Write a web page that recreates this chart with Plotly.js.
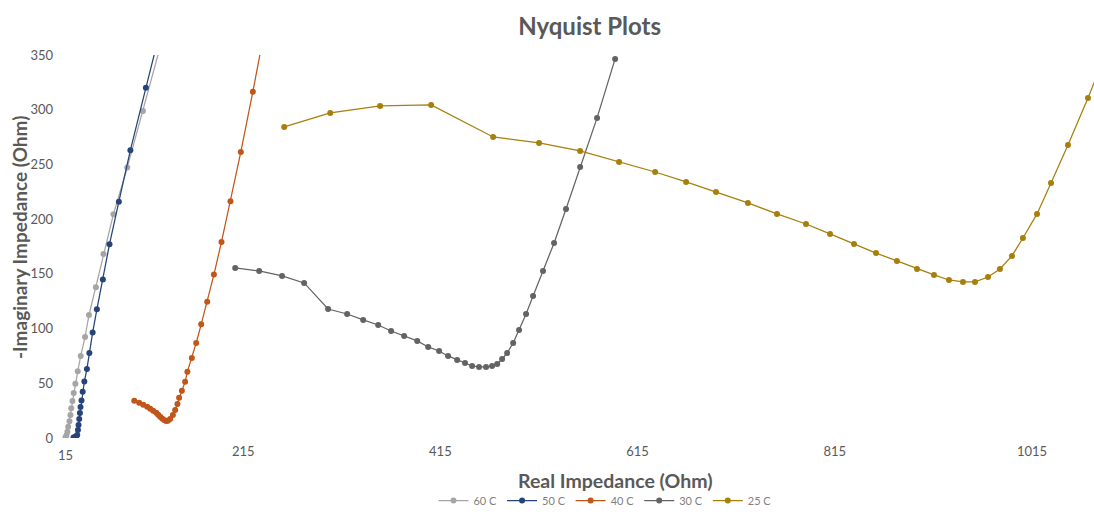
<!DOCTYPE html>
<html>
<head>
<meta charset="utf-8">
<script src="https://cdn.plot.ly/plotly-3.0.1.min.js"></script>
<style>html,body{margin:0;padding:0;background:#fff;}#chart{width:1094px;height:515px;}</style>
</head>
<body>
<div id="chart"></div>
<script>
// ---- Data ----
const seriesNames = ["60 C", "50 C", "40 C", "30 C", "25 C"];

const x60 = [34.7, 35.7, 36.7, 37.5, 38.8, 39.8, 40.6, 41.8, 43.1, 44.8, 47.2, 50.2, 54.6, 58.6, 65.6, 73.3, 83.4, 97.4, 113.3, 132.8];
const y60 = [0.5, 2.3, 5.8, 10.3, 15.4, 21.0, 27.1, 33.8, 41.1, 49.6, 61.1, 75.0, 92.3, 112.4, 137.7, 168.2, 204.5, 247.1, 298.9, 364];

const x50 = [42.9, 44.3, 45.6, 46.7, 47.4, 48.0, 48.7, 49.4, 50.0, 51.0, 52.2, 53.9, 56.5, 59.0, 62.3, 66.6, 72.7, 79.4, 88.9, 100.6, 116.3, 133.6];
const y50 = [0.5, 0.8, 1.5, 2.7, 7.3, 11.9, 17.4, 22.9, 28.3, 34.3, 42.3, 51.6, 63.1, 77.7, 96.3, 117.6, 144.9, 177.1, 216.0, 263.0, 320.0, 382];

const x40 = [104.5, 109.5, 113.6, 117.6, 120.7, 123.7, 126.8, 128.8, 130.8, 132.8, 134.9, 136.9, 138.6, 140.9, 143.7, 146.0, 148.3, 150.0, 152.8, 156.1, 158.4, 162.9, 167.3, 172.4, 178.5, 185.3, 193.0, 202.1, 212.6, 224.8, 237.2];
const y40 = [34.1, 32.2, 30.4, 28.5, 26.7, 24.9, 23.0, 21.2, 19.4, 17.8, 16.5, 15.5, 15.8, 17.4, 21.0, 25.6, 31.1, 36.8, 43.2, 51.5, 60.6, 73.1, 86.8, 103.9, 124.6, 149.3, 179.2, 216.4, 261.4, 316.5, 375];

const x30 = [206.9, 231.2, 254.4, 276.8, 301.1, 320.4, 336.7, 351.9, 365.0, 378.2, 391.5, 402.6, 413.7, 422.8, 432.0, 440.0, 447.2, 454.2, 461.3, 467.4, 472.6, 477.6, 482.7, 488.8, 494.8, 501.9, 509.0, 519.1, 530.3, 542.4, 556.7, 573.9, 592.2];
const y30 = [155.4, 152.7, 148.1, 141.7, 117.9, 113.3, 107.9, 103.3, 97.8, 93.2, 88.7, 83.2, 79.5, 75.0, 71.3, 68.6, 65.8, 64.9, 64.9, 65.8, 67.6, 72.2, 77.7, 86.8, 98.7, 113.3, 129.8, 152.7, 178.2, 209.3, 247.7, 292.5, 346.4];

const x25 = [256.6, 303.3, 353.9, 405.6, 468.5, 515.1, 556.7, 596.2, 632.8, 664.2, 694.5, 726.9, 756.4, 785.8, 810.2, 834.5, 856.8, 878.0, 898.4, 915.6, 930.8, 945.0, 957.2, 970.4, 982.5, 994.7, 1005.8, 1020.1, 1034.3, 1051.5, 1071.8, 1092.8];
const y25 = [284.3, 297.1, 303.5, 304.4, 275.1, 269.6, 262.3, 252.3, 243.1, 234.0, 224.9, 214.8, 204.8, 195.6, 186.5, 177.3, 169.0, 161.8, 154.5, 149.0, 144.4, 142.6, 142.6, 147.1, 154.5, 166.4, 182.8, 204.8, 233.1, 267.8, 310.8, 358];

const xTickVals = [215, 415, 615, 815, 1015];
const xFirstTick = "15";
const yTickVals = [0, 50, 100, 150, 200, 250, 300, 350];

// ---- Styles ----
const colors = ["#A5A5A5", "#264478", "#C0561A", "#636363", "#A67F0C"];
const xs = [x60, x50, x40, x30, x25];
const ys = [y60, y50, y40, y30, y25];

const FONT = "Lato, 'Open Sans', sans-serif";
const traces = seriesNames.map((n, i) => ({
  type: "scatter",
  mode: "lines+markers",
  name: n,
  x: xs[i],
  y: ys[i],
  line: {color: colors[i], width: 1.25},
  marker: {color: colors[i], size: 6},
  cliponaxis: true
}));

const layout = {
  width: 1094,
  height: 515,
  paper_bgcolor: "#ffffff",
  plot_bgcolor: "#ffffff",
  margin: {l: 46, r: 0, t: 55, b: 77},
  font: {family: FONT, color: "#595959"},
  title: {
    text: "<b>Nyquist Plots</b>",
    font: {family: FONT, size: 24, color: "#595959"},
    x: 0.539, xanchor: "center",
    y: 0.948, yanchor: "middle",
    xref: "container", yref: "container"
  },
  xaxis: {
    range: [15, 1077.9],
    tickvals: xTickVals,
    ticktext: xTickVals.map(String),
    showgrid: false, zeroline: false, showline: false,
    ticks: "",
    tickfont: {family: FONT, size: 13, color: "#595959"},
    ticklabelstandoff: 4
  },
  yaxis: {
    range: [0, 350],
    tickvals: yTickVals,
    ticktext: yTickVals.map(String),
    showgrid: false, zeroline: false, showline: false,
    ticks: "",
    tickfont: {family: FONT, size: 13, color: "#595959"},
    ticklabelstandoff: -8
  },
  showlegend: true,
  legend: {
    orientation: "h",
    xref: "container", yref: "container",
    x: 0.553, xanchor: "center",
    y: 0.0, yanchor: "bottom",
    font: {family: FONT, size: 11, color: "#7f7f7f"},
    itemwidth: 30,
    tracegroupgap: 0
  },
  annotations: [
    {text: xFirstTick, xref: "x", yref: "paper", x: 15, xshift: 19,
     y: 0, yshift: -17, xanchor: "center", yanchor: "middle",
     showarrow: false, font: {family: FONT, size: 13, color: "#595959"}},
    {text: "<b>Real Impedance (Ohm)</b>", xref: "paper", yref: "paper",
     x: (615 - 46) / 1048, y: -(480 - 438) / 383, xanchor: "center", yanchor: "middle",
     showarrow: false, font: {family: FONT, size: 19.5, color: "#595959"}},
    {text: "<b>-Imaginary Impedance (Ohm)</b>", xref: "paper", yref: "paper",
     x: -(46 - 20) / 1048, y: (438 - 238) / 383, xanchor: "center", yanchor: "middle",
     textangle: -90, showarrow: false, font: {family: FONT, size: 19, color: "#595959"}}
  ]
};

Plotly.newPlot("chart", traces, layout, {displayModeBar: false, staticPlot: true});
</script>
</body>
</html>
